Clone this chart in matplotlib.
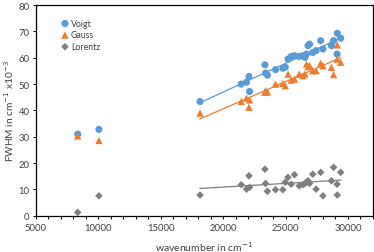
import numpy as np
import matplotlib
matplotlib.use("Agg")
import matplotlib.pyplot as plt
from matplotlib.ticker import MultipleLocator

# wavenumber in cm-1 (shared by all three fits)
wavenumber = [8350, 10050, 18150, 21450, 21870, 22070, 22120, 23350, 23400, 23550,
              24200, 24780, 24980, 25200, 25450, 25720, 26100, 26400, 26550, 26680,
              26800, 26930, 27180, 27450, 27820, 28000, 28680, 28850, 29130, 29150, 29420]

voigt = [31.0, 32.8, 43.4, 50.0, 50.7, 52.9, 47.2, 57.3, 54.2, 53.4,
         55.5, 56.0, 56.4, 59.5, 60.5, 60.8, 60.5, 60.8, 60.1, 61.4,
         64.6, 65.2, 62.0, 62.7, 66.5, 63.3, 64.6, 66.5, 61.4, 69.3, 67.4]

gauss = [30.3, 28.6, 39.0, 43.4, 44.7, 41.2, 44.0, 46.9, 47.5, 47.0,
         50.0, 50.3, 49.4, 53.8, 51.5, 51.9, 53.8, 53.2, 53.8, 57.6,
         56.6, 57.0, 55.1, 55.1, 57.9, 57.0, 56.4, 53.6, 59.5, 64.9, 58.3]

lorentz = [1.3, 7.6, 7.9, 11.8, 10.1, 15.2, 10.8, 17.7, 12.3, 9.3,
           9.9, 9.9, 12.7, 14.6, 12.0, 15.6, 11.4, 11.8, 12.3, 12.7,
           13.3, 12.3, 15.8, 10.1, 16.5, 7.6, 13.3, 18.4, 12.0, 7.9, 16.5]

series = [
    ("Voigt", voigt, "o", "#5B9BD5", 26),
    ("Gauss", gauss, "^", "#ED7D31", 28),
    ("Lorentz", lorentz, "D", "#7F7F7F", 15),
]

plt.rcParams['font.family'] = ['Lato', 'DejaVu Sans']
txt = '#404040'

fig = plt.figure(figsize=(3.74, 2.53), dpi=100)
ax = fig.add_axes([0.096, 0.143, 0.901, 0.833])

x = np.array(wavenumber, dtype=float)
fit_mask = x > 15000  # trendlines only over the UV/visible points

for label, vals, marker, color, size in series:
    y = np.array(vals)
    ax.scatter(x, y, marker=marker, s=size, color=color, label=label,
               edgecolors='none', zorder=3)
    k, b = np.polyfit(x[fit_mask], y[fit_mask], 1)
    xl = np.array([x[fit_mask].min(), x[fit_mask].max()])
    ax.plot(xl, k * xl + b, color=color, lw=0.9, zorder=2)

ax.set_xlim(5000, 32000)
ax.set_ylim(0, 80)
ax.xaxis.set_major_locator(MultipleLocator(5000))
ax.xaxis.set_minor_locator(MultipleLocator(1000))
ax.yaxis.set_major_locator(MultipleLocator(10))
ax.tick_params(axis='both', which='both', direction='out', labelsize=6.8,
               length=2.5, width=0.7, pad=2, colors='black', labelcolor=txt)
ax.tick_params(axis='y', which='both', right=False)
ax.tick_params(axis='x', which='both', top=False, pad=3)

for s in ax.spines.values():
    s.set_linewidth(0.9)
    s.set_color('black')

ax.set_xlabel("wavenumber in cm$^{-1}$", fontsize=7.5, color=txt, labelpad=5)
ax.set_ylabel("FWHM in cm$^{-1}$ x10$^{-3}$", fontsize=7.3, color=txt, labelpad=2)

leg = ax.legend(loc='upper left', bbox_to_anchor=(0.055, 0.96), frameon=False,
                fontsize=6.3, handletextpad=0.1, labelspacing=0.3,
                borderaxespad=0.2, handlelength=1.2, labelcolor=txt)

fig.savefig("out.png", dpi=100)
